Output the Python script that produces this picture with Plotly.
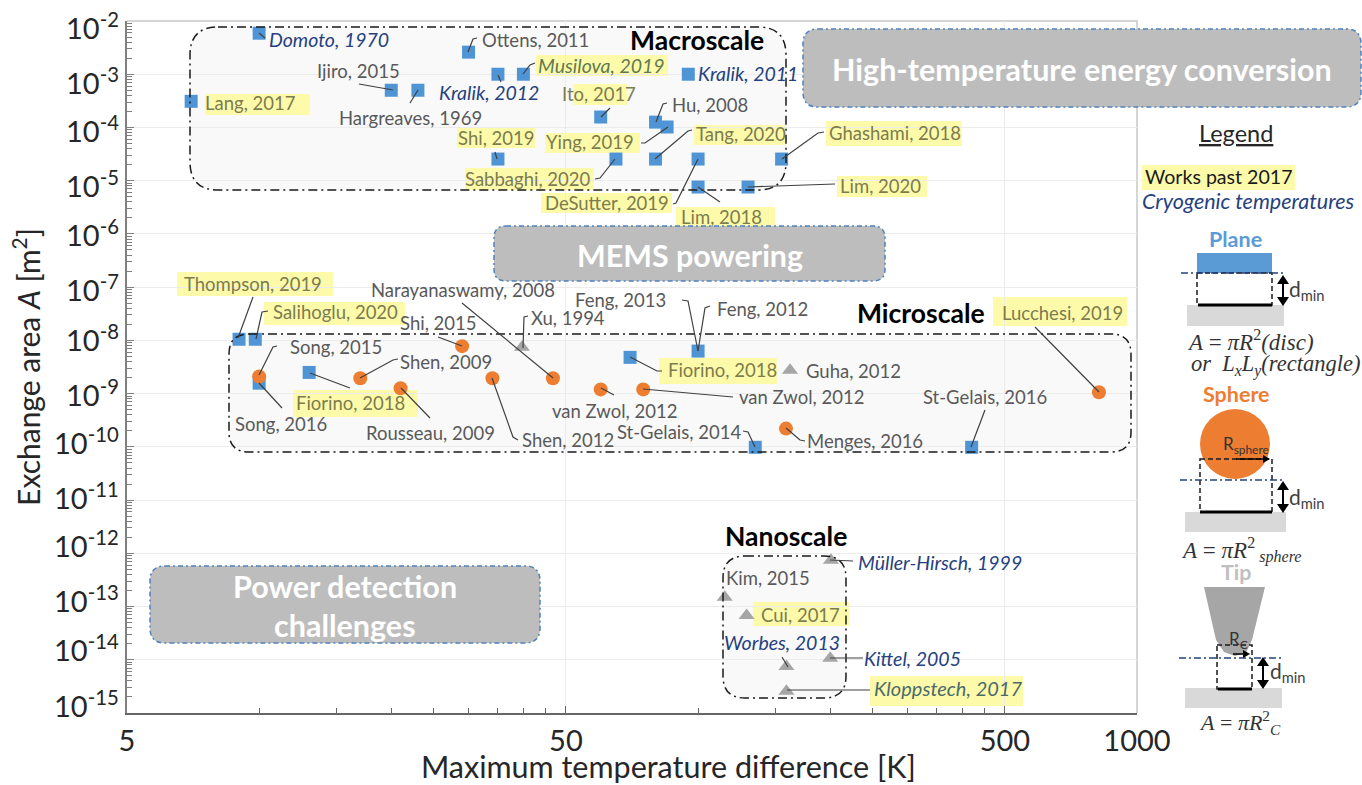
import math
import plotly.graph_objects as go

# ---------- data (delta T in K, area in m^2) ----------
plane_names = ["Domoto, 1970", "Lang, 2017", "Ijiro, 2015", "Hargreaves, 1969", "Ottens, 2011", "Kralik, 2012",
               "Musilova, 2019", "Kralik, 2011", "Ito, 2017", "Hu, 2008", "Ying, 2019", "Shi, 2019",
               "Sabbaghi, 2020", "Tang, 2020", "DeSutter, 2019", "Ghashami, 2018", "Lim, 2018", "Lim, 2020",
               "Thompson, 2019", "Salihoglu, 2020", "Song, 2016", "Fiorino, 2018", "Fiorino, 2018", "Feng, 2012",
               "St-Gelais, 2014", "St-Gelais, 2016"]
plane_dT = [10, 7, 20, 23, 30, 35, 40, 95, 60, 80, 85, 35, 65, 80, 100, 155, 100, 130, 9, 9.8, 10, 13, 70, 100, 135, 420]
plane_A = [5.9e-3, 3.1e-4, 5e-4, 5e-4, 2.6e-3, 1e-3, 1e-3, 1e-3, 1.57e-4, 1.26e-4, 1.02e-4, 2.55e-5, 2.55e-5,
           2.55e-5, 2.55e-5, 2.55e-5, 7.6e-6, 7.6e-6, 1.05e-8, 1.05e-8, 1.57e-9, 2.5e-9, 4.8e-9, 6.3e-9, 9.8e-11, 9.8e-11]

sphere_names = ["Song, 2015", "Shi, 2015", "Shen, 2009", "Rousseau, 2009", "Shen, 2012", "Narayanaswamy, 2008",
                "van Zwol, 2012", "van Zwol, 2012", "Menges, 2016", "Lucchesi, 2019"]
sphere_dT = [10, 29, 17, 21, 34, 46.7, 60, 75, 158.6, 819]
sphere_A = [2.1e-9, 7.8e-9, 1.95e-9, 1.26e-9, 1.95e-9, 1.95e-9, 1.2e-9, 1.2e-9, 2.2e-10, 1.06e-9]

tip_names = ["Xu, 1994", "Guha, 2012", "Müller-Hirsch, 1999", "Kim, 2015", "Cui, 2017", "Worbes, 2013", "Kittel, 2005", "Kloppstech, 2017"]
tip_dT = [39.7, 162, 200.8, 115, 129, 159, 200, 159]
tip_A = [7.4e-9, 2.75e-9, 7.4e-13, 1.5e-13, 6.8e-14, 7.5e-15, 1.07e-14, 2.55e-15]

x_tick_vals = [5, 50, 500, 1000]
x_tick_text = ["5", "50", "500", "1000"]
x_minor_vals = [5, 10, 15, 20, 25, 30, 35, 40, 45, 50, 100, 150, 200, 250, 300, 350, 400, 450, 500, 1000]
y_exponents = list(range(-15, -1))

# ---------- plot-area frame in pixels ----------
L, T, R, B = 127, 21, 1137, 713
W, H = 1362, 785
fx = lambda p: (p - L) / (R - L)
fy = lambda p: (B - p) / (B - T)

GRAY, NAVY, OLIVE = "#595959", "#25417f", "#7c7c4e"
YEL = "#fdfbaa"
FONT = "Lato"

shapes, annos = [], []


def rect(x0, y0, x1, y1, fill, layer="below", line=None, dash=None, lw=0):
    shapes.append(dict(type="rect", xref="paper", yref="paper", x0=fx(x0), x1=fx(x1), y0=fy(y0), y1=fy(y1),
                       fillcolor=fill, layer=layer,
                       line=dict(width=lw, color=line or "rgba(0,0,0,0)", dash=dash or "solid")))


def poly(pts, color="#404040", width=1.2, layer="above", dash="solid"):
    path = "M " + " L ".join(f"{fx(a):.5f},{fy(b):.5f}" for a, b in pts)
    shapes.append(dict(type="path", xref="paper", yref="paper", path=path, layer=layer,
                       line=dict(color=color, width=width, dash=dash)))


def rounded(x0, y0, x1, y1, r, fill=None, line=None, dash=None, lw=1.5, layer="below"):
    X, Y = fx, fy
    p = (f"M {X(x0+r):.5f},{Y(y0):.5f} L {X(x1-r):.5f},{Y(y0):.5f} Q {X(x1):.5f},{Y(y0):.5f} {X(x1):.5f},{Y(y0+r):.5f} "
         f"L {X(x1):.5f},{Y(y1-r):.5f} Q {X(x1):.5f},{Y(y1):.5f} {X(x1-r):.5f},{Y(y1):.5f} "
         f"L {X(x0+r):.5f},{Y(y1):.5f} Q {X(x0):.5f},{Y(y1):.5f} {X(x0):.5f},{Y(y1-r):.5f} "
         f"L {X(x0):.5f},{Y(y0+r):.5f} Q {X(x0):.5f},{Y(y0):.5f} {X(x0+r):.5f},{Y(y0):.5f} Z")
    shapes.append(dict(type="path", xref="paper", yref="paper", path=p, layer=layer,
                       fillcolor=fill or "rgba(0,0,0,0)",
                       line=dict(color=line or "rgba(0,0,0,0)", width=lw if line else 0, dash=dash or "solid")))


def text(s, cx, cy, size=18.5, color=GRAY, family=FONT, anchor="center"):
    annos.append(dict(xref="paper", yref="paper", x=fx(cx), y=fy(cy), text=s, showarrow=False,
                      xanchor=anchor, yanchor="middle", font=dict(family=family, size=size, color=color)))


def dbl_arrow(x, y0, y1):
    poly([(x, y0 + 6), (x, y1 - 6)], color="black", width=2)
    for tip, base in ((y0, y0 + 9), (y1, y1 - 9)):
        p = f"M {fx(x):.5f},{fy(tip):.5f} L {fx(x-6):.5f},{fy(base):.5f} L {fx(x+6):.5f},{fy(base):.5f} Z"
        shapes.append(dict(type="path", xref="paper", yref="paper", path=p, fillcolor="black",
                           line=dict(width=0), layer="above"))


def r_arrow(x0, x1, y):
    poly([(x0, y), (x1 - 5, y)], color="black", width=1.5)
    p = f"M {fx(x1):.5f},{fy(y):.5f} L {fx(x1-7):.5f},{fy(y-4):.5f} L {fx(x1-7):.5f},{fy(y+4):.5f} Z"
    shapes.append(dict(type="path", xref="paper", yref="paper", path=p, fillcolor="black", line=dict(width=0), layer="above"))


# frame top/right
poly([(L, T), (R, T), (R, B)], color="#c8c8c8", width=1.5, layer="below")

# region fills
DD = "9px,4px,2px,4px"
BOX = [(190, 27, 786, 190, 28), (229, 334, 1131, 452, 20), (723, 556, 846, 698, 22)]
for b in BOX:
    rounded(*b, fill="#f9f9f9")

# yellow highlights
HL = [(205, 94, 310, 115), (536, 55, 668, 76), (573, 84, 627, 105), (457, 128, 535, 148), (545, 133, 640, 153),
      (694, 125, 786, 145), (826, 121, 962, 146), (465, 168, 594, 190), (541, 193, 672, 213), (676, 207, 775, 228),
      (837, 176, 927, 197), (177, 272, 333, 296), (264, 302, 405, 325), (293, 390, 418, 417), (659, 358, 777, 384),
      (993, 297, 1127, 326), (753, 602, 849, 626), (870, 676, 1023, 706), (1142, 165, 1295, 190)]
for h in HL:
    rect(*h, fill=YEL)

# outlines above the markers
for b in BOX:
    rounded(*b, line="#1a1a1a", dash=DD, layer="above")

# big grey boxes
BD = "5px,3px,2px,3px"
for b in [(803, 29, 1361, 107, 15), (494, 226, 885, 281, 12), (150, 566, 540, 643, 15)]:
    rounded(*b, fill="#bdbdbd", line="#4f81bd", dash=BD, layer="above")
text("<b>High-temperature energy conversion</b>", 1082, 69, 30.5, "white")
text("<b>MEMS powering</b>", 690, 255, 30.4, "white")
text("<b>Power detection</b>", 345, 586, 30.5, "white")
text("<b>challenges</b>", 345, 625, 30.5, "white")

# region titles
text("<b>Macroscale</b>", 697, 40, 26.5, "black")
text("<b>Microscale</b>", 921, 313, 26.5, "black")
text("<b>Nanoscale</b>", 786, 536, 26.5, "black")

# leader lines
LEADERS = [
    [(259, 33), (265, 38)], [(468, 52), (473, 39), (477, 38)], [(359, 84), (393, 90)], [(410, 103), (418, 90)],
    [(498, 75), (501, 82)], [(523, 74), (530, 65), (535, 63)], [(601, 117), (610, 108)], [(656, 122), (663, 104), (667, 103)],
    [(668, 127), (645, 143), (641, 143)], [(655, 159), (688, 131), (692, 130)], [(615, 159), (600, 178), (595, 179)],
    [(698, 159), (676, 203), (673, 204)], [(698, 187), (720, 202)], [(748, 187), (835, 184)], [(782, 159), (818, 133), (824, 132)],
    [(497, 159), (495, 152)], [(238, 338), (253, 297)], [(256, 339), (262, 312), (268, 311)], [(259, 375), (273, 347), (277, 346)],
    [(259, 383), (282, 408)], [(310, 373), (350, 388)], [(360, 378), (393, 360), (398, 359)], [(462, 346), (438, 337)],
    [(401, 388), (430, 418)], [(492, 378), (513, 437), (518, 440)], [(553, 378), (462, 303)], [(523, 348), (524, 317), (528, 316)],
    [(601, 388), (614, 395)], [(643, 389), (733, 397)], [(755, 447), (748, 432), (743, 431)], [(698, 351), (688, 301), (682, 300)],
    [(698, 351), (705, 308), (710, 306)], [(630, 357), (657, 371), (662, 371)], [(971, 447), (985, 410)], [(786, 428), (800, 440), (805, 441)],
    [(1099, 392), (1035, 327)], [(830, 560), (853, 561)], [(830, 658), (863, 658)], [(788, 667), (782, 657)], [(787, 690), (870, 690)],
]
for l in LEADERS:
    poly(l)

# citation labels
LABELS_GRAY = [("Ottens, 2011", 535, 40), ("Ijiro, 2015", 358, 71), ("Hargreaves, 1969", 410, 118), ("Hu, 2008", 710, 105),
               ("Song, 2015", 336, 347), ("Song, 2016", 281, 424), ("Rousseau, 2009", 430, 433), ("Shen, 2009", 446, 362),
               ("Shi, 2015", 438, 323), ("Narayanaswamy, 2008", 463, 290), ("Xu, 1994", 568, 318), ("Shen, 2012", 568, 440),
               ("van Zwol, 2012", 614, 411), ("van Zwol, 2012", 801, 397), ("St-Gelais, 2014", 679, 432), ("Feng, 2013", 620, 300),
               ("Feng, 2012", 762, 309), ("Guha, 2012", 853, 371), ("St-Gelais, 2016", 985, 397), ("Menges, 2016", 865, 441),
               ("Kim, 2015", 768, 578)]
LABELS_HL = [("Lang, 2017", 250, 103), ("Ito, 2017", 599, 94), ("Shi, 2019", 496, 138), ("Ying, 2019", 590, 142),
             ("Tang, 2020", 741, 134), ("Ghashami, 2018", 895, 133), ("Sabbaghi, 2020", 528, 179), ("DeSutter, 2019", 607, 203),
             ("Lim, 2018", 721, 217), ("Lim, 2020", 880, 186), ("Thompson, 2019", 253, 284), ("Salihoglu, 2020", 335, 312),
             ("Fiorino, 2018", 350, 403), ("Fiorino, 2018", 722, 370), ("Lucchesi, 2019", 1062, 313), ("Cui, 2017", 800, 615)]
LABELS_CRYO = [("Domoto, 1970", 329, 39), ("Kralik, 2012", 489, 92), ("Kralik, 2011", 748, 73),
               ("Müller-Hirsch, 1999", 940, 562), ("Worbes, 2013", 782, 642), ("Kittel, 2005", 912, 658)]
for s, a, b in LABELS_GRAY:
    text(s, a, b)
for s, a, b in LABELS_HL:
    text(s, a, b, color=OLIVE)
for s, a, b in LABELS_CRYO:
    text(f"<i>{s}</i>", a, b, 19.5, NAVY)
text("<i>Musilova, 2019</i>", 601, 65, 19.5, "#5f7a50")
text("<i>Kloppstech, 2017</i>", 948, 688, 20, "#4b6b6b")

# ---------- y tick labels: hand-placed in the reference, so they drift from the gridlines ----------
Y_LABEL_PX = [708, 652, 603, 548, 500, 445, 397, 342, 292, 237, 188, 133, 85, 30]
for e, py in zip(y_exponents, Y_LABEL_PX):
    text(f"10<sup>{e}</sup>", 121, py - 4, 29, "#262626", anchor="right")

# ---------- legend panel ----------
text("<u>Legend</u>", 1236, 133, 23.5, "#262626")
text("Works past 2017", 1219, 176, 19.6, "#1a1a1a")
text("<i>Cryogenic temperatures</i>", 1248, 201, 21.5, NAVY)

SERIF = "Liberation Serif"
DIM = "#404040"
# plane
text("<b>Plane</b>", 1235, 239, 21.5, "#5b9bd5")
rect(1197, 253, 1272, 273, "#5b9bd5", layer="above")
rect(1187, 305, 1284, 326, "#d9d9d9", layer="above")
rect(1197, 273, 1272, 305, "rgba(0,0,0,0)", layer="above", line="#1a1a1a", dash="5px,3px", lw=1.5)
poly([(1181, 273), (1284, 273)], color=NAVY, width=1.5, dash="7px,3px,2px,3px")
poly([(1198, 305), (1272, 305)], color="black", width=3)
dbl_arrow(1283, 275, 306)
text("d<sub>min</sub>", 1307, 290, 21, DIM)
text("<i>A</i> = <i>πR</i><sup>2</sup><i>(disc)</i>", 1250, 340, 23, "#333333", SERIF)
text("<i>or  L<sub>x</sub>L<sub>y</sub>(rectangle)</i>", 1275, 365, 22.5, "#333333", SERIF)

# sphere
text("<b>Sphere</b>", 1236, 394, 21.5, "#ed7d31")
shapes.append(dict(type="circle", xref="paper", yref="paper", x0=fx(1200), x1=fx(1270), y0=fy(409), y1=fy(479),
                   fillcolor="#ed7d31", line=dict(width=0), layer="above"))
rect(1185, 512, 1286, 532, "#d9d9d9", layer="above")
rect(1200, 459, 1272, 512, "rgba(0,0,0,0)", layer="above", line="#1a1a1a", dash="5px,3px", lw=1.5)
poly([(1180, 480), (1284, 480)], color=NAVY, width=1.5, dash="7px,3px,2px,3px")
poly([(1200, 512), (1272, 512)], color="black", width=3)
dbl_arrow(1283, 481, 513)
r_arrow(1236, 1270, 459)
text("R<sub>sphere</sub>", 1246, 445, 17, "#333333")
text("d<sub>min</sub>", 1307, 498, 21, DIM)
text("<i>A</i> = <i>πR</i><sup>2</sup><sub> </sub><i><sub>sphere</sub></i>", 1241, 550, 23, "#333333", SERIF)

# tip
text("<b>Tip</b>", 1236, 572, 21.5, "#bfbfbf")
tip = [(1204, 587), (1265, 587), (1252, 640), (1246, 653), (1235, 656), (1224, 652), (1216, 640)]
shapes.append(dict(type="path", xref="paper", yref="paper", layer="above", fillcolor="#a6a6a6", line=dict(width=0),
                   path="M " + " L ".join(f"{fx(a):.5f},{fy(b):.5f}" for a, b in tip) + " Z"))
rect(1185, 688, 1282, 708, "#d9d9d9", layer="above")
rect(1217, 645, 1252, 689, "rgba(0,0,0,0)", layer="above", line="#1a1a1a", dash="5px,3px", lw=1.5)
poly([(1179, 658), (1283, 658)], color=NAVY, width=1.5, dash="7px,3px,2px,3px")
poly([(1218, 689), (1252, 689)], color="black", width=3)
dbl_arrow(1263, 657, 689)
r_arrow(1233, 1250, 654)
text("R<sub>C</sub>", 1238, 640, 17, "#333333")
text("d<sub>min</sub>", 1288, 672, 21, DIM)
text("<i>A</i> = <i>πR</i><sup>2</sup><i><sub>C</sub></i>", 1240, 722, 22, "#333333", SERIF)

# x title sits right of the plot centre in the reference
text("Maximum temperature difference [K]", 668, 766, 30.5, "#262626")

# ---------- figure ----------
fig = go.Figure()
fig.add_trace(go.Scatter(x=plane_dT, y=plane_A, text=plane_names, mode="markers", name="Plane",
                         marker=dict(symbol="square", size=13, color="#4f95d6")))
fig.add_trace(go.Scatter(x=sphere_dT, y=sphere_A, text=sphere_names, mode="markers", name="Sphere",
                         marker=dict(symbol="circle", size=14, color="#ed7d31")))
fig.add_trace(go.Scatter(x=tip_dT, y=tip_A, text=tip_names, mode="markers", name="Tip",
                         marker=dict(symbol="triangle-up", size=14, color="#a6a6a6")))

fig.update_layout(
    width=W, height=H, autosize=False, showlegend=False, paper_bgcolor="white", plot_bgcolor="white",
    margin=dict(l=L, r=W - R, t=T, b=H - B, pad=0),
    font=dict(family=FONT, color="#262626"),
    shapes=shapes, annotations=annos,
    xaxis=dict(type="log", range=[math.log10(5), 3], tickmode="array", tickvals=x_tick_vals, ticktext=x_tick_text,
               tickfont=dict(size=29, color="#262626"), ticks="inside", ticklen=7, tickcolor="#666666", ticklabelstandoff=1,
               showline=True, linecolor="#666666", linewidth=2, showgrid=True, gridcolor="#ececec", gridwidth=1.2,
               zeroline=False,
               minor=dict(tickmode="array", tickvals=x_minor_vals, ticks="inside", ticklen=5, tickcolor="#666666", showgrid=False)),
    yaxis=dict(type="log", range=[-15, -2], tickmode="array", tickvals=[10.0 ** e for e in y_exponents],
               showticklabels=False, ticks="inside", ticklen=7, tickcolor="#808080",
               showline=True, linecolor="#808080", linewidth=2, showgrid=True, gridcolor="#ececec", gridwidth=1.2,
               zeroline=False, automargin=False,
               title=dict(text="Exchange area <i>A</i> [m<sup>2</sup>]", font=dict(size=30, color="#262626"), standoff=76),
               minor=dict(ticks="inside", ticklen=5, tickcolor="#808080", showgrid=False, dtick="D1")),
)
fig.write_html("out.html", config={"displayModeBar": False},
               post_script="document.body.style.margin='0';document.body.style.overflow='hidden';")
